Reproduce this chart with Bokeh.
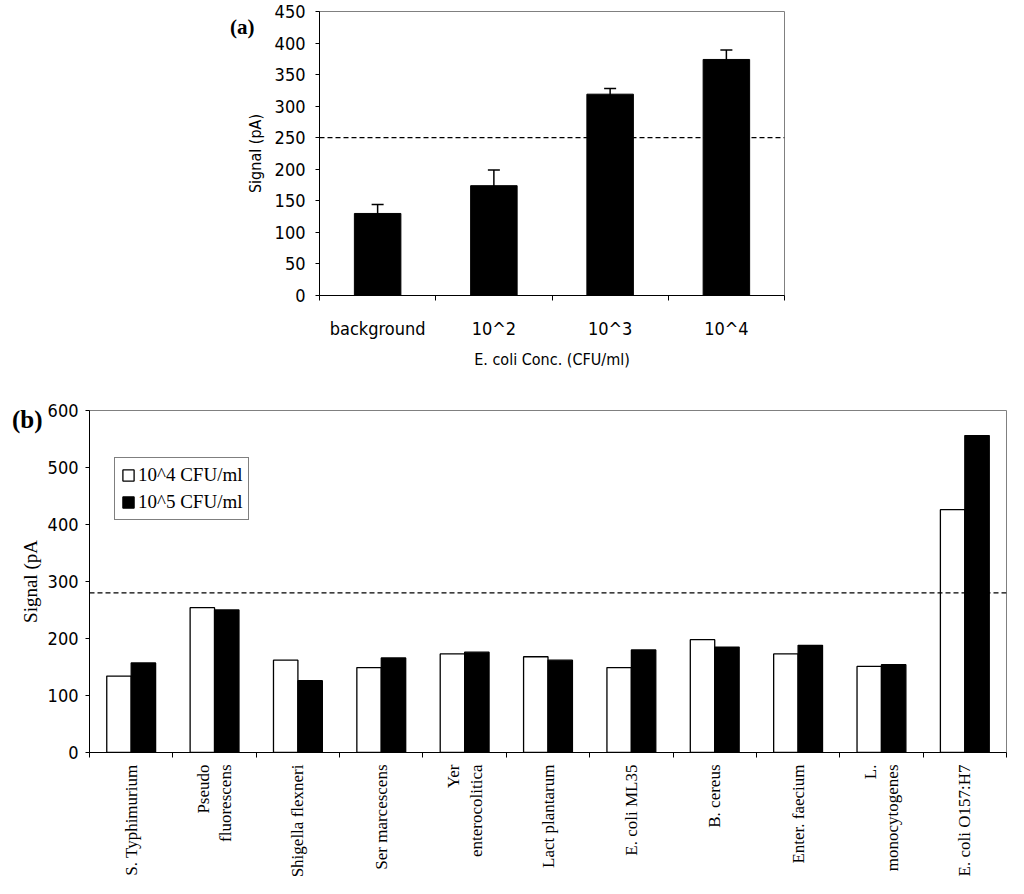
import math
from bokeh.embed import file_html
from bokeh.resources import INLINE
from bokeh.models import (ColumnDataSource, Range1d, FixedTicker, SingleIntervalTicker,
                          Span, Whisker, TeeHead, Legend, LegendItem, Div)
from bokeh.plotting import figure

# (a) signal vs E. coli concentration
conc_labels = ["background", "10^2", "10^3", "10^4"]
conc_signal = [130, 174, 319, 374]
conc_error = [14, 25, 9, 15]
conc_threshold = 250

# (b) specificity test
bacteria = ["S. Typhimurium", "Pseudo\nfluorescens", "Shigella flexneri", "Ser marcescens",
            "Yer\nenterocolitica", "Lact plantarum", "E. coli ML35", "B. cereus",
            "Enter. faecium", "L.\nmonocytogenes", "E. coli O157:H7"]
signal_1e4 = [134, 254, 162, 149, 173, 168, 149, 198, 173, 151, 426]
signal_1e5 = [157, 250, 126, 166, 176, 162, 180, 185, 188, 154, 556]
bact_threshold = 280
series_names = ["10^4 CFU/ml", "10^5 CFU/ml"]

SANS = "Liberation Sans Narrow, DejaVu Sans Condensed, Liberation Sans"
SERIF = "Liberation Serif"

# ---------------- chart (a) ----------------
n_a = len(conc_labels)
xa = [i + 0.5 for i in range(n_a)]
src_a = ColumnDataSource(data=dict(
    x=xa, top=conc_signal,
    upper=[s + e for s, e in zip(conc_signal, conc_error)],
    lower=[s - e for s, e in zip(conc_signal, conc_error)],
))

pa = figure(frame_width=465, frame_height=284, min_border_left=319, min_border_top=11,
            min_border_bottom=85, min_border_right=216,
            x_range=Range1d(0, n_a), y_range=Range1d(0, 450),
            output_backend="svg", toolbar_location=None, tools="")
pa.xgrid.visible = False
pa.ygrid.visible = False
pa.outline_line_color = "#808080"

pa.vbar(x="x", top="top", width=0.4, source=src_a, fill_color="black", line_color="black")
pa.add_layout(Whisker(base="x", upper="upper", lower="lower", source=src_a,
                      line_color="black", line_width=1.5,
                      upper_head=TeeHead(size=12, line_color="black", line_width=1.5),
                      lower_head=TeeHead(size=12, line_color="black", line_width=1.5)))
pa.add_layout(Span(location=conc_threshold, dimension="width", line_color="black",
                   line_dash="5 3", line_width=1.3))

ax = pa.xaxis[0]
ax.ticker = FixedTicker(ticks=xa, minor_ticks=list(range(n_a + 1)))
ax.major_label_overrides = {x: lab for x, lab in zip(xa, conc_labels)}
ax.major_tick_line_color = None
ax.major_tick_out = 0
ax.major_tick_in = 0
ax.minor_tick_line_color = "black"
ax.minor_tick_out = 5
ax.minor_tick_in = 0
ax.major_label_standoff = 17
ax.major_label_text_font = SANS
ax.major_label_text_font_size = "18px"
ax.major_label_text_color = "black"
ax.axis_label = "E. coli Conc. (CFU/ml)"
ax.axis_label_text_font = SANS
ax.axis_label_text_font_size = "16px"
ax.axis_label_text_font_style = "normal"
ax.axis_label_text_color = "black"
ax.axis_label_standoff = 8
ax.axis_line_color = "black"

ay = pa.yaxis[0]
ay.ticker = SingleIntervalTicker(interval=50, num_minor_ticks=0)
ay.major_tick_out = 4
ay.major_tick_in = 0
ay.major_tick_line_color = "black"
ay.major_label_standoff = 10
ay.major_label_text_font = SANS
ay.major_label_text_font_size = "18px"
ay.major_label_text_color = "black"
ay.axis_label = "Signal (pA)"
ay.axis_label_text_font = SANS
ay.axis_label_text_font_size = "16px"
ay.axis_label_text_font_style = "normal"
ay.axis_label_text_color = "black"
ay.axis_label_standoff = 7
ay.axis_line_color = "black"

# ---------------- chart (b) ----------------
n_b = len(bacteria)
xb = [i + 0.5 for i in range(n_b)]
bw = 0.293
src_b = ColumnDataSource(data=dict(
    x1=[x - bw / 2 for x in xb], x2=[x + bw / 2 for x in xb],
    s1=signal_1e4, s2=signal_1e5,
))

pb = figure(frame_width=917, frame_height=342, min_border_left=89, min_border_top=30,
            min_border_bottom=124, min_border_right=2,
            x_range=Range1d(0, n_b), y_range=Range1d(0, 600),
            output_backend="svg", toolbar_location=None, tools="")
pb.xgrid.visible = False
pb.ygrid.visible = False
pb.outline_line_color = "#808080"

r1 = pb.vbar(x="x1", top="s1", width=bw, source=src_b, fill_color="white",
             line_color="black", line_width=1.3)
r2 = pb.vbar(x="x2", top="s2", width=bw, source=src_b, fill_color="black",
             line_color="black", line_width=1.3)
pb.add_layout(Span(location=bact_threshold, dimension="width", line_color="black",
                   line_dash="5 3", line_width=1.3))

bx = pb.xaxis[0]
bx.ticker = FixedTicker(ticks=xb, minor_ticks=list(range(n_b + 1)))
bx.major_label_overrides = {x: lab for x, lab in zip(xb, bacteria)}
bx.major_label_orientation = math.pi / 2
bx.major_tick_line_color = None
bx.major_tick_out = 0
bx.major_tick_in = 0
bx.minor_tick_line_color = "black"
bx.minor_tick_out = 5
bx.minor_tick_in = 0
bx.major_label_standoff = 7
bx.major_label_text_font = SERIF
bx.major_label_text_font_size = "17px"
bx.major_label_text_color = "black"
bx.axis_line_color = "black"

by = pb.yaxis[0]
by.ticker = SingleIntervalTicker(interval=100, num_minor_ticks=0)
by.major_tick_out = 4
by.major_tick_in = 0
by.major_tick_line_color = "black"
by.major_label_standoff = 7
by.major_label_text_font = SANS
by.major_label_text_font_size = "18px"
by.major_label_text_color = "black"
by.axis_label = "Signal (pA"
by.axis_label_text_font = SERIF
by.axis_label_text_font_size = "19px"
by.axis_label_text_font_style = "normal"
by.axis_label_text_color = "black"
by.axis_label_standoff = 4
by.axis_line_color = "black"

legend = Legend(items=[LegendItem(label=series_names[0], renderers=[r1]),
                       LegendItem(label=series_names[1], renderers=[r2])],
                location=(25, 232), border_line_color="black", border_line_width=1.3,
                label_text_font=SERIF, label_text_font_size="19px",
                label_text_color="black",
                glyph_width=14, glyph_height=14, label_standoff=3,
                padding=6, spacing=5, margin=0, background_fill_alpha=1)
pb.add_layout(legend)

# panel tags
tag_a = Div(text="(a)", styles={"position": "absolute", "left": "225px", "top": "12px",
                                "font-family": SERIF, "font-size": "21px",
                                "font-weight": "bold", "color": "black", "line-height": "1"})
tag_b = Div(text="(b)", styles={"position": "absolute", "left": "7px", "top": "402px",
                                "font-family": SERIF, "font-size": "25px",
                                "font-weight": "bold", "color": "black", "line-height": "1"})

open("out.html", "w").write(file_html([pa, pb, tag_a, tag_b], INLINE))
